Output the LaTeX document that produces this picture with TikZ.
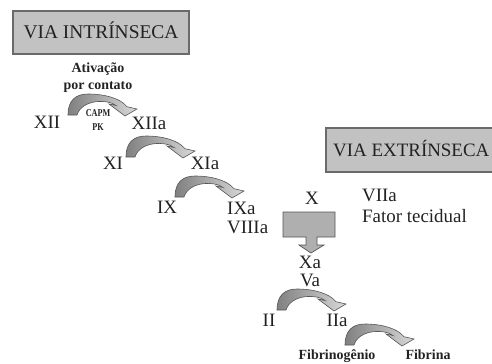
\documentclass[tikz,border=0pt]{standalone}
\usepackage{fontspec}
\usepackage{graphicx}
\setmainfont{Liberation Serif}
\definecolor{boxgray}{HTML}{C2C2C2}
\definecolor{boxline}{HTML}{6A6A6A}
\definecolor{arrowline}{HTML}{555555}
\definecolor{arrowdark}{HTML}{808080}
\definecolor{arrowlight}{HTML}{D8D8D8}
\definecolor{ink}{HTML}{222222}
\begin{document}
\begin{tikzpicture}[x=1bp,y=-1bp,
  lab/.style={inner sep=0pt, text=ink, font=\fontsize{19}{21}\selectfont, text height=12.5bp, text depth=0pt},
  blab/.style={inner sep=0pt, text=ink, font=\bfseries\fontsize{14}{16}\selectfont, text height=9.2bp, text depth=0pt},
  slab/.style={inner sep=0pt, text=ink, font=\bfseries\fontsize{10.5}{12}\selectfont, text height=7bp, text depth=0pt},
  titlebox/.style={draw=boxline, fill=boxgray, line width=1.2pt},
  curv/.pic={
    \shade[draw=arrowline, line width=0.6pt, left color=arrowdark, right color=arrowlight]
      (0,0) .. controls (0,-15) and (8,-21) .. (20,-21)
      .. controls (36,-21) and (52,-17) .. (59,-8.3)
      -- (69,-6) -- (57,1) -- (41,-11) -- (48,-9.5)
      .. controls (40,-16) and (14,-16) .. (9,0) -- cycle;
  }]
\useasboundingbox (0,0) rectangle (492,363);
% title boxes
\draw[titlebox] (13,11) rectangle (189,54);
\node[lab, font=\fontsize{19.5}{21}\selectfont] (vi) at (101,32.5) {VIA INTRÍNSECA};
\begin{scope}
\clip (0,0) rectangle (492,363);
\draw[titlebox] (326,128) rectangle (496,172);
\end{scope}
\node[lab, anchor=west] (ve) at (333,150) {VIA EXTRÍNSECA};
% contact activation
\node[blab] (ativ) at (98,68) {Ativação};
\node[blab] (porc) at (98,85) {por contato};
% curved arrows
\pic at (68,115) {curv};
\pic at (126,157) {curv};
\pic at (175,197) {curv};
\pic at (277,310) {curv};
\pic at (345,345) {curv};
\node[slab] (capm) at (98,113) {\scalebox{0.78}[1]{CAPM}};
\node[slab] (pk) at (98,127) {\scalebox{0.78}[1]{PK}};
% factors
\node[lab] (xii) at (47,122) {XII};
\node[lab] (xiia) at (149,123) {XIIa};
\node[lab] (xi) at (113,163) {XI};
\node[lab] (xia) at (205,163) {XIa};
\node[lab] (ix) at (167,207) {IX};
\node[lab, anchor=west] (ixa) at (227,208) {IXa};
\node[lab, anchor=west] (viiia) at (227,227) {VIIIa};
\node[lab] (x) at (312,198) {X};
\node[lab, anchor=west] (viia) at (362,195) {VIIa};
\node[lab, anchor=west] (ft) at (362,216) {Fator tecidual};
% block arrow
\filldraw[fill=boxgray!90!black, draw=arrowline, line width=0.7pt]
  (283,212) -- (335,212) -- (335,237) -- (317,237) -- (317,245) -- (324,245)
  -- (311,253) -- (299,245) -- (306,245) -- (306,237) -- (283,237) -- cycle;
\node[lab] (xa) at (310,262) {Xa};
\node[lab] (va) at (310,280) {Va};
\node[lab] (ii) at (269,320) {II};
\node[lab] (iia) at (337,320) {IIa};
\node[blab] (fbg) at (337,355) {Fibrinogênio};
\node[blab] (fbr) at (428,355) {Fibrina};
\end{tikzpicture}
\end{document}
